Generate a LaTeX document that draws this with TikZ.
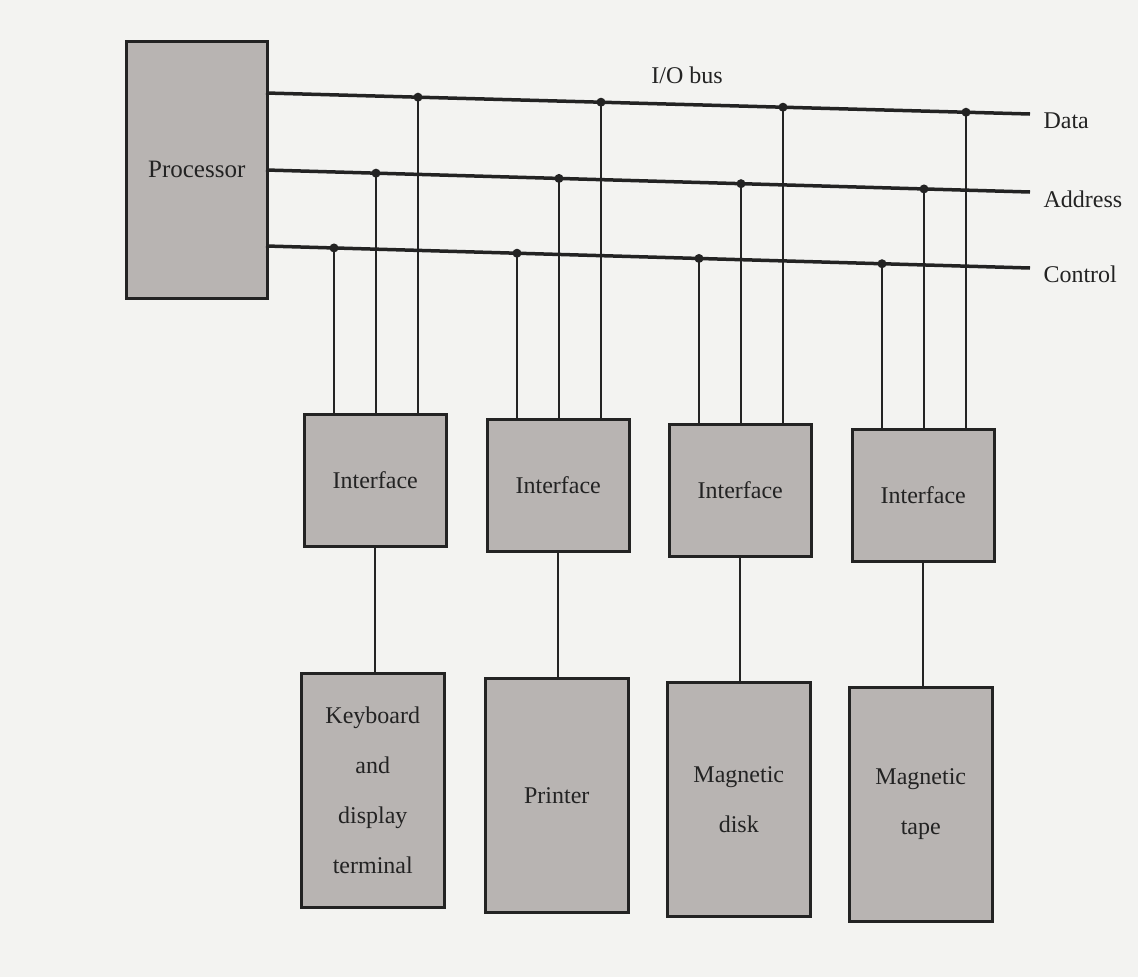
\documentclass[tikz,border=0pt]{standalone}
\usepackage{fontspec}
\setmainfont{Liberation Serif}
\usetikzlibrary{calc}
\definecolor{bg}{RGB}{243,243,241}
\definecolor{boxfill}{RGB}{184,180,178}
\definecolor{ink}{RGB}{35,35,35}
\begin{document}
\begin{tikzpicture}[x=1pt,y=-1pt,
  every node/.style={font=\fontsize{24}{38}\selectfont, text=ink},
  gbox/.style={draw=ink, line width=2.5pt, fill=boxfill, anchor=north west, inner sep=0pt, align=center},
  ibox/.style={gbox, minimum width=142pt, minimum height=132pt},
  dbox/.style={gbox, minimum width=143pt, minimum height=234pt, font=\fontsize{24}{50}\selectfont},
  busline/.style={draw=ink, line width=3.5pt},
  vline/.style={draw=ink, line width=2pt},
  junc/.style={fill=ink}]
\fill[bg] (0,0) rectangle (1138,977);
\useasboundingbox (0,0) rectangle (1138,977);

% processor
\node[gbox, minimum width=141pt, minimum height=257pt, font=\fontsize{25}{30}\selectfont] (proc) at (125,40) {Processor};

% bus end points
\coordinate (dL) at (266,93);   \coordinate (dR) at (1030,114);
\coordinate (aL) at (266,170);  \coordinate (aR) at (1030,192);
\coordinate (cL) at (266,246);  \coordinate (cR) at (1030,268);
\draw[busline] (dL) -- (dR);
\draw[busline] (aL) -- (aR);
\draw[busline] (cL) -- (cR);

\node at (687,75) (iobus) {I/O bus};
\node[anchor=west] (ldata) at ($(dR)+(10,7)$) {Data};
\node[anchor=west] (laddr) at ($(aR)+(10,7)$) {Address};
\node[anchor=west] (lctrl) at ($(cR)+(10,6)$) {Control};

% interfaces
\node[ibox] (i1) at (303,413) {Interface};
\node[ibox] (i2) at (486,418) {Interface};
\node[ibox] (i3) at (668,423) {Interface};
\node[ibox] (i4) at (851,428) {Interface};

% devices
\node[dbox] (d1) at (300,672) {Keyboard\\and\\display\\terminal};
\node[dbox] (d2) at (484,677) {Printer};
\node[dbox] (d3) at (666,681) {Magnetic\\disk};
\node[dbox] (d4) at (848,686) {Magnetic\\tape};

% bus taps
\foreach \k/\xx in {1/303,2/486,3/668,4/851}{
  \pgfmathsetmacro{\xc}{\xx+31}
  \pgfmathsetmacro{\xa}{\xx+73}
  \pgfmathsetmacro{\xd}{\xx+115}
  \coordinate (jc\k) at ($(cL)!{(\xc-266)/764}!(cR)$);
  \coordinate (ja\k) at ($(aL)!{(\xa-266)/764}!(aR)$);
  \coordinate (jd\k) at ($(dL)!{(\xd-266)/764}!(dR)$);
  \draw[vline] (jc\k) -- (jc\k |- i\k.north);
  \draw[vline] (ja\k) -- (ja\k |- i\k.north);
  \draw[vline] (jd\k) -- (jd\k |- i\k.north);
  \fill[junc] (jc\k) circle (4.5pt);
  \fill[junc] (ja\k) circle (4.5pt);
  \fill[junc] (jd\k) circle (4.5pt);
  \draw[vline] (i\k.south) -- (i\k.south |- d\k.north);
}
\end{tikzpicture}
\end{document}
